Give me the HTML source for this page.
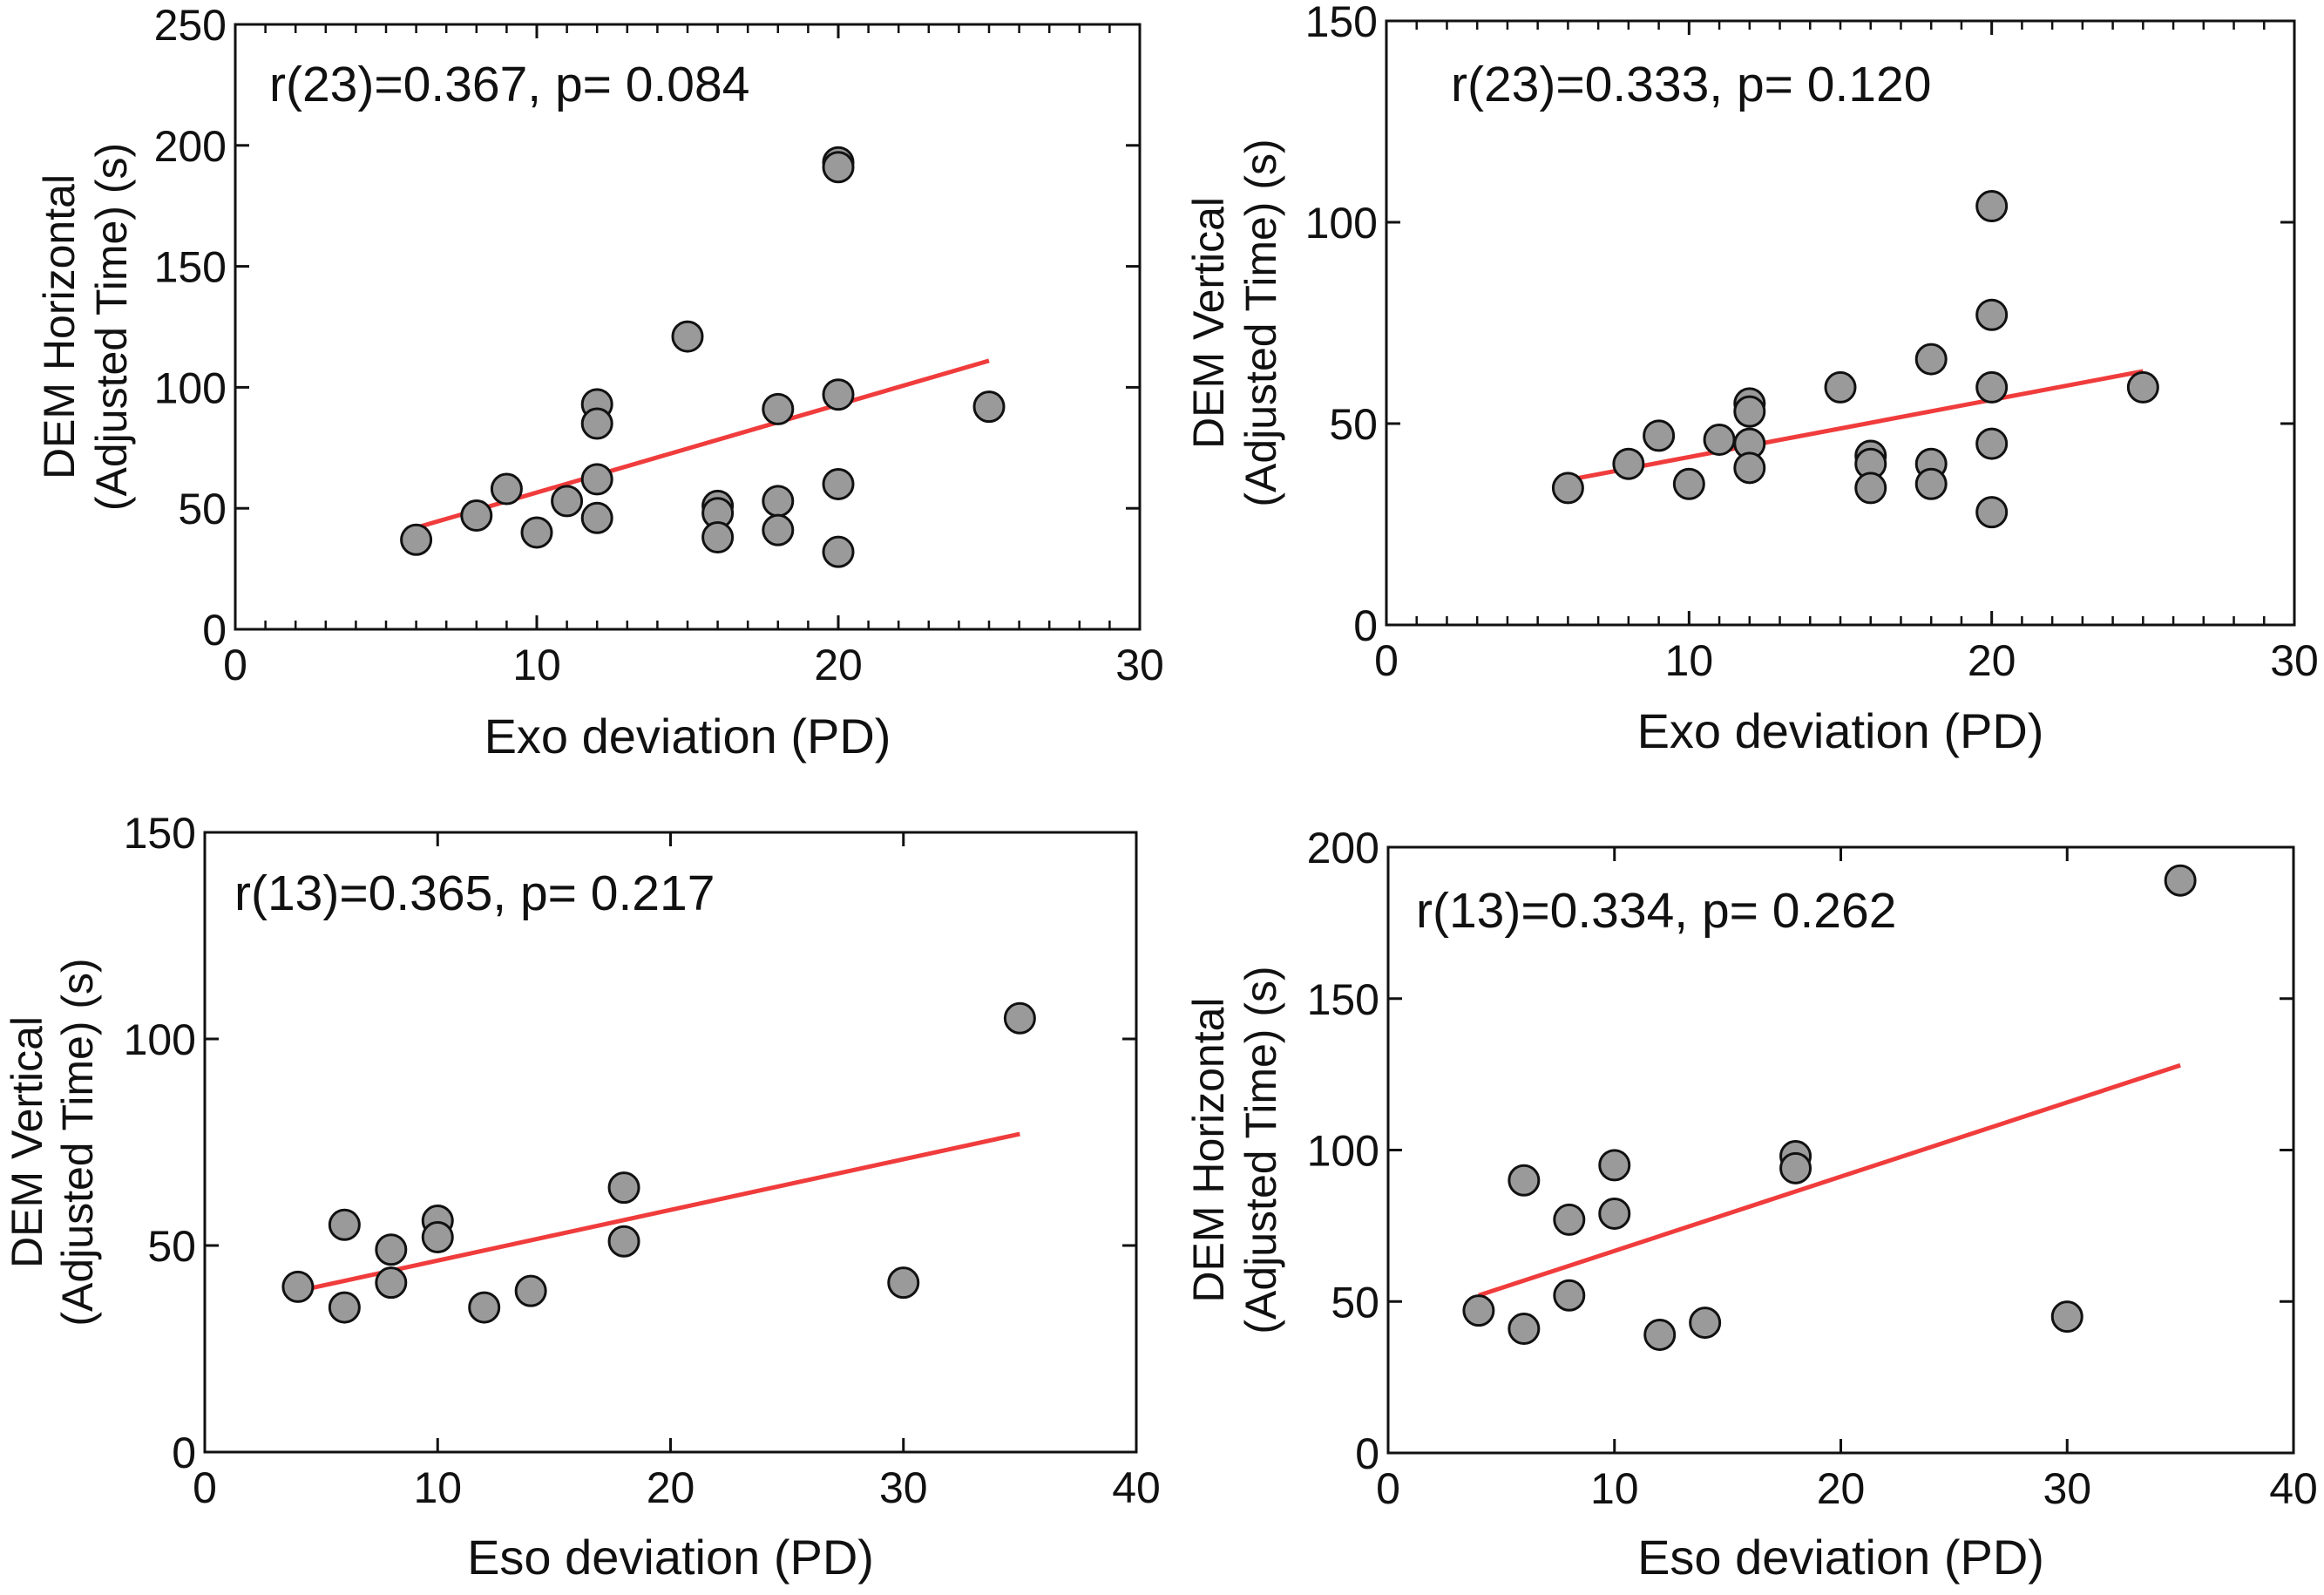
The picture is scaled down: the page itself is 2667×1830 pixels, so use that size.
<!DOCTYPE html>
<html><head><meta charset="utf-8"><style>
html,body{margin:0;padding:0;background:#fff;}
svg text{font-family:"Liberation Sans",Arial,sans-serif;fill:#111;}
</style></head><body>
<svg id="fig" xmlns="http://www.w3.org/2000/svg" width="2667" height="1825" viewBox="0 0 2667 1825"></svg>
<script>
// Panel A: Exo vs DEM Horizontal
const aX = [6,8,9,10,11,12,12,12,12,15,16,16,16,18,18,18,20,20,20,20,20,25];
const aY = [37,47,58,40,53,93,85,62,46,121,51,48,38,91,53,41,193,191,97,60,32,92];
const aFit = [[6,42],[25,111]];
// Panel B: Exo vs DEM Vertical
const bX = [6,8,9,10,11,12,12,12,12,15,16,16,16,18,18,18,20,20,20,20,20,25];
const bY = [34,40,47,35,46,55,53,45,39,59,42,40,34,66,40,35,104,77,59,45,28,59];
const bFit = [[6,36],[25,63]];
// Panel C: Eso vs DEM Vertical
const cX = [4,6,6,8,8,10,10,12,14,18,18,30,35];
const cY = [40,55,35,49,41,56,52,35,39,64,51,41,105];
const cFit = [[4,39],[35,77]];
// Panel D: Eso vs DEM Horizontal
const dX = [4,6,6,8,8,10,10,12,14,18,18,30,35];
const dY = [47,90,41,77,52,95,79,39,43,98,94,45,189];
const dFit = [[4,52],[35,128]];
const exoTicks = [0,10,20,30];
const esoTicks = [0,10,20,30,40];
const yTicks250 = [0,50,100,150,200,250];
const yTicks150 = [0,50,100,150];
const yTicks200 = [0,50,100,150,200];

const NS="http://www.w3.org/2000/svg";
const svg=document.getElementById('fig');
function mk(tag,attrs,parent){const e=document.createElementNS(NS,tag);for(const k in attrs)e.setAttribute(k,attrs[k]);(parent||svg).appendChild(e);return e;}

function panel(cfg){
  const g=mk('g',{});
  
  
  const sx=v=>cfg.L+(v-cfg.xmin)/(cfg.xmax-cfg.xmin)*(cfg.R-cfg.L);
  const sy=v=>cfg.B-(v-cfg.ymin)/(cfg.ymax-cfg.ymin)*(cfg.B-cfg.T);
  const frame=mk('rect',{x:cfg.L,y:cfg.T,width:cfg.R-cfg.L,height:cfg.B-cfg.T,fill:'none',stroke:'#111','stroke-width':3},g);
  
  
  if(cfg.minor){
    for(let v=cfg.xmin+1;v<cfg.xmax;v++){
      if(v%10===0)continue;
      mk('line',{x1:sx(v),x2:sx(v),y1:cfg.B,y2:cfg.B-10,stroke:'#111','stroke-width':2.5},g);
      mk('line',{x1:sx(v),x2:sx(v),y1:cfg.T,y2:cfg.T+10,stroke:'#111','stroke-width':2.5},g);
    }
  }
  cfg.xt.forEach(v=>{
    mk('line',{x1:sx(v),x2:sx(v),y1:cfg.B,y2:cfg.B-16,stroke:'#111','stroke-width':3},g);
    mk('line',{x1:sx(v),x2:sx(v),y1:cfg.T,y2:cfg.T+16,stroke:'#111','stroke-width':3},g);
    const t=mk('text',{x:sx(v),y:cfg.B+58,'font-size':50,'text-anchor':'middle'},g);
    t.textContent=v;
    
    
  });
  cfg.yt.forEach(v=>{
    mk('line',{x1:cfg.L,x2:cfg.L+16,y1:sy(v),y2:sy(v),stroke:'#111','stroke-width':3},g);
    mk('line',{x1:cfg.R,x2:cfg.R-16,y1:sy(v),y2:sy(v),stroke:'#111','stroke-width':3},g);
    const t=mk('text',{x:cfg.L-10,y:sy(v)+18,'font-size':50,'text-anchor':'end'},g);
    t.textContent=v;
    
    
  });
  const fl=mk('line',{x1:sx(cfg.fit[0][0]),y1:sy(cfg.fit[0][1]),x2:sx(cfg.fit[1][0]),y2:sy(cfg.fit[1][1]),stroke:'#f03c3c','stroke-width':5},g);
  
  
  cfg.xs.forEach((x,i)=>{
    const c=mk('circle',{cx:sx(x),cy:sy(cfg.ys[i]),r:17,fill:'#9a9a9a',stroke:'#111','stroke-width':3},g);
    
    
  });
  const an=mk('text',{x:cfg.ax,y:cfg.ay,'font-size':57},g);
  an.textContent=cfg.annot;
  
  
  const xt=mk('text',{x:(cfg.L+cfg.R)/2,y:cfg.xty,'font-size':56,'text-anchor':'middle'},g);
  xt.textContent=cfg.xtitle;
  
  
  const cy=(cfg.T+cfg.B)/2;
  [[cfg.yx1,cfg.yl1],[cfg.yx2,cfg.yl2]].forEach(([x,s])=>{
    const t=mk('text',{x:x,y:cy,'font-size':50,'text-anchor':'middle','dominant-baseline':'central',transform:`rotate(-90 ${x} ${cy})`},g);
    t.textContent=s;
    
    
  });
}
panel({name:'panel-exo-horizontal',L:270,R:1308,T:28,B:722,xmin:0,xmax:30,ymin:0,ymax:250,xt:exoTicks,yt:yTicks250,minor:true,xs:aX,ys:aY,fit:aFit,annot:'r(23)=0.367, p= 0.084',ax:309,ay:116,xtitle:'Exo deviation (PD)',xty:864,yx1:68,yx2:128,yl1:'DEM Horizontal',yl2:'(Adjusted Time) (s)'});
panel({name:'panel-exo-vertical',L:1591,R:2633,T:24,B:717,xmin:0,xmax:30,ymin:0,ymax:150,xt:exoTicks,yt:yTicks150,minor:true,xs:bX,ys:bY,fit:bFit,annot:'r(23)=0.333, p= 0.120',ax:1665,ay:116,xtitle:'Exo deviation (PD)',xty:858,yx1:1387,yx2:1447,yl1:'DEM Vertical',yl2:'(Adjusted Time) (s)'});
panel({name:'panel-eso-vertical',L:235,R:1304,T:955,B:1666,xmin:0,xmax:40,ymin:0,ymax:150,xt:esoTicks,yt:yTicks150,minor:false,xs:cX,ys:cY,fit:cFit,annot:'r(13)=0.365, p= 0.217',ax:269,ay:1044,xtitle:'Eso deviation (PD)',xty:1806,yx1:31,yx2:89,yl1:'DEM Vertical',yl2:'(Adjusted Time) (s)'});
panel({name:'panel-eso-horizontal',L:1593,R:2632,T:972,B:1667,xmin:0,xmax:40,ymin:0,ymax:200,xt:esoTicks,yt:yTicks200,minor:false,xs:dX,ys:dY,fit:dFit,annot:'r(13)=0.334, p= 0.262',ax:1625,ay:1064,xtitle:'Eso deviation (PD)',xty:1806,yx1:1387,yx2:1447,yl1:'DEM Horizontal',yl2:'(Adjusted Time) (s)'});
</script>
</body></html>
